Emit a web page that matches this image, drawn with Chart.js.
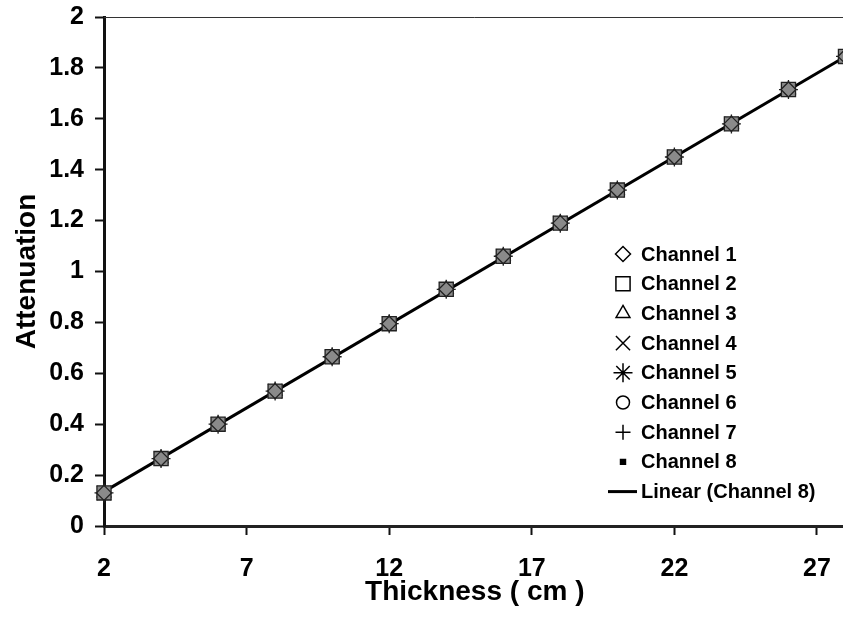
<!DOCTYPE html>
<html>
<head>
<meta charset="utf-8">
<script src="https://cdn.jsdelivr.net/npm/chart.js@4/dist/chart.umd.min.js"></script>
<style>
  html, body { margin: 0; padding: 0; overflow: hidden; background: #fff; }
  #wrap { position: absolute; left: 0; top: 0; width: 848px; height: 620px; }
</style>
</head>
<body>
<div id="wrap"><canvas id="c" width="848" height="620"></canvas></div>
<script>
// ---- data ----
const thickness = [2, 4, 6, 8, 10, 12, 14, 16, 18, 20, 22, 24, 26, 28];
const channel1 = [0.13, 0.265, 0.40, 0.53, 0.665, 0.795, 0.93, 1.06, 1.19, 1.32, 1.45, 1.58, 1.715, 1.845];
const channel2 = [0.13, 0.265, 0.40, 0.53, 0.665, 0.795, 0.93, 1.06, 1.19, 1.32, 1.45, 1.58, 1.715, 1.845];
const channel3 = [0.13, 0.265, 0.40, 0.53, 0.665, 0.795, 0.93, 1.06, 1.19, 1.32, 1.45, 1.58, 1.715, 1.845];
const channel4 = [0.13, 0.265, 0.40, 0.53, 0.665, 0.795, 0.93, 1.06, 1.19, 1.32, 1.45, 1.58, 1.715, 1.845];
const channel5 = [0.13, 0.265, 0.40, 0.53, 0.665, 0.795, 0.93, 1.06, 1.19, 1.32, 1.45, 1.58, 1.715, 1.845];
const channel6 = [0.13, 0.265, 0.40, 0.53, 0.665, 0.795, 0.93, 1.06, 1.19, 1.32, 1.45, 1.58, 1.715, 1.845];
const channel7 = [0.13, 0.265, 0.40, 0.53, 0.665, 0.795, 0.93, 1.06, 1.19, 1.32, 1.45, 1.58, 1.715, 1.845];
const channel8 = [0.13, 0.265, 0.40, 0.53, 0.665, 0.795, 0.93, 1.06, 1.19, 1.32, 1.45, 1.58, 1.715, 1.845];
const seriesNames = ['Channel 1', 'Channel 2', 'Channel 3', 'Channel 4', 'Channel 5', 'Channel 6', 'Channel 7', 'Channel 8'];
const trendName = 'Linear (Channel 8)';
const trendX = [2, 28];
const trendY = [0.135, 1.845];
const xTickValues = [2, 7, 12, 17, 22, 27];
const yTickValues = [0, 0.2, 0.4, 0.6, 0.8, 1, 1.2, 1.4, 1.6, 1.8, 2];
const yTickLabels = ['0', '0.2', '0.4', '0.6', '0.8', '1', '1.2', '1.4', '1.6', '1.8', '2'];

const channels = [channel1, channel2, channel3, channel4, channel5, channel6, channel7, channel8];
const styles = [
  { pointStyle: 'rectRot',  radius: 7.5 },
  { pointStyle: 'rect',     radius: 10,  plotFill: '#8a8a8a' },
  { pointStyle: 'triangle', radius: 8 },
  { pointStyle: 'crossRot', radius: 10 },
  { pointStyle: 'star',     radius: 9.5 },
  { pointStyle: 'circle',   radius: 6.5 },
  { pointStyle: 'cross',    radius: 7.5 },
  { pointStyle: 'rect',     radius: 3.5, filled: true }
];

const FONT = '"Liberation Sans", Arial, Helvetica, sans-serif';
Chart.defaults.font.family = FONT;
Chart.defaults.color = '#000';

const datasets = channels.map((vals, i) => ({
  label: seriesNames[i],
  data: thickness.map((x, j) => ({ x: x, y: vals[j] })),
  pointStyle: styles[i].pointStyle,
  pointRadius: styles[i].radius,
  pointHoverRadius: styles[i].radius,
  pointBorderWidth: 1.3,
  pointBorderColor: '#222',
  pointBackgroundColor: styles[i].filled ? '#222' : (styles[i].plotFill || 'rgba(0,0,0,0)'),
  legendFilled: !!styles[i].filled,
  showLine: false,
  clip: false
}));
datasets.push({
  label: trendName,
  data: trendX.map((x, j) => ({ x: x, y: trendY[j] })),
  showLine: true,
  borderColor: '#000',
  borderWidth: 3,
  pointRadius: 0,
  pointHoverRadius: 0,
  legendLine: true,
  clip: false
});

const inChartLegend = {
  id: 'inChartLegend',
  afterDraw(chart, args, opts) {
    const ctx = chart.ctx;
    ctx.save();
    ctx.font = 'bold 20px ' + FONT;
    ctx.textBaseline = 'middle';
    ctx.textAlign = 'left';
    chart.data.datasets.forEach((ds, i) => {
      const y = opts.top + i * opts.rowHeight;
      ctx.strokeStyle = '#000';
      if (ds.legendLine) {
        ctx.lineWidth = 3;
        ctx.beginPath();
        ctx.moveTo(opts.lineX0, y);
        ctx.lineTo(opts.lineX1, y);
        ctx.stroke();
      } else {
        ctx.lineWidth = 1.5;
        ctx.fillStyle = ds.legendFilled ? '#000' : '#fff';
        Chart.helpers.drawPoint(ctx, { pointStyle: ds.pointStyle, radius: ds.pointRadius, rotation: 0, borderWidth: 1.5 }, opts.symbolX, y);
      }
      ctx.fillStyle = '#000';
      ctx.fillText(ds.label, opts.textX, y + 1);
    });
    ctx.restore();
  }
};

const topBorder = {
  id: 'topBorder',
  beforeDatasetsDraw(chart) {
    const { ctx, chartArea } = chart;
    ctx.save();
    ctx.strokeStyle = '#333';
    ctx.lineWidth = 1;
    ctx.beginPath();
    ctx.moveTo(chartArea.left, chartArea.top + 0.5);
    ctx.lineTo(chartArea.right, chartArea.top + 0.5);
    ctx.stroke();
    ctx.restore();
  }
};

new Chart(document.getElementById('c'), {
  type: 'scatter',
  data: { datasets: datasets },
  plugins: [topBorder, inChartLegend],
  options: {
    responsive: false,
    animation: false,
    events: [],
    layout: { autoPadding: false, padding: { top: 17, right: 2.5, left: 0, bottom: 0 } },
    plugins: {
      legend: { display: false },
      tooltip: { enabled: false },
      inChartLegend: { top: 254, rowHeight: 29.7, symbolX: 623, textX: 641, lineX0: 608, lineX1: 637 }
    },
    scales: {
      x: {
        type: 'linear',
        min: 2,
        max: 28,
        afterBuildTicks(s) { s.ticks = xTickValues.map(v => ({ value: v })); },
        ticks: { color: '#000', font: { size: 25, weight: 'bold' }, padding: 19, maxRotation: 0 },
        grid: { display: true, drawOnChartArea: false, drawTicks: true, tickLength: 9, tickWidth: 2, tickColor: '#111' },
        border: { display: true, color: '#222', width: 3 },
        title: { display: true, text: 'Thickness ( cm )', color: '#000', font: { size: 28, weight: 'bold' }, padding: { top: 0, bottom: 11 } },
        afterFit(s) { s.height = 94; s.paddingLeft = 0; s.paddingRight = 0; }
      },
      y: {
        type: 'linear',
        min: 0,
        max: 2,
        afterBuildTicks(s) { s.ticks = yTickValues.map(v => ({ value: v })); },
        ticks: {
          color: '#000', font: { size: 25, weight: 'bold' }, padding: 11,
          callback: (v, i) => yTickLabels[i]
        },
        grid: { display: true, drawOnChartArea: false, drawTicks: true, tickLength: 9, tickWidth: 2, tickColor: '#111' },
        border: { display: true, color: '#111', width: 3 },
        title: { display: true, text: 'Attenuation', color: '#000', font: { size: 28, weight: 'bold' }, padding: { top: 10, bottom: 0 } },
        afterFit(s) { s.width = 104; s.paddingTop = 0; s.paddingBottom = 0; }
      }
    }
  }
});
</script>
</body>
</html>
